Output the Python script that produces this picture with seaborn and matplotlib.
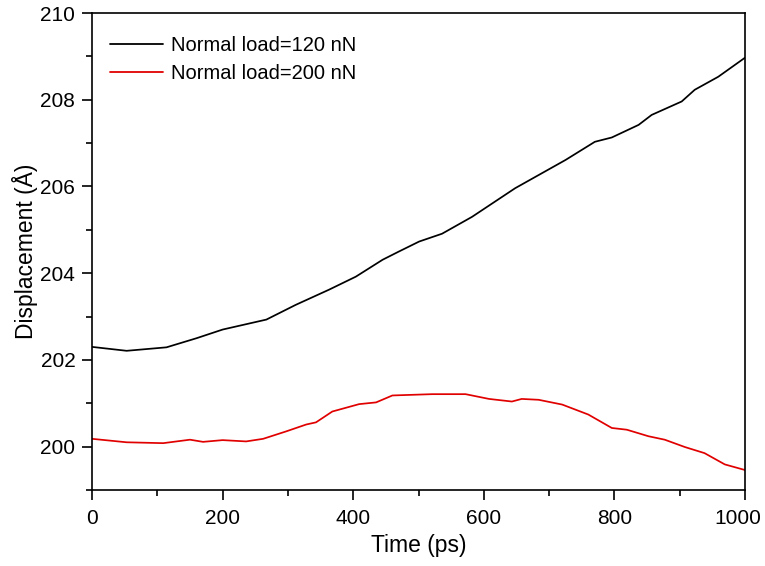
import numpy as np
import pandas as pd
import matplotlib
matplotlib.use("Agg")
import matplotlib.pyplot as plt
from matplotlib.ticker import MultipleLocator
from matplotlib.transforms import ScaledTranslation
import seaborn as sns

# values
time_120 = [0, 53, 114, 160, 200, 267, 312, 363, 404, 445, 470, 501, 536, 582,
            648, 725, 770, 796, 837, 857, 903, 923, 959, 1000]
disp_120 = [202.30, 202.21, 202.29, 202.50, 202.70, 202.93, 203.27, 203.62, 203.92,
            204.31, 204.50, 204.73, 204.91, 205.30, 205.96, 206.61, 207.03, 207.13,
            207.42, 207.65, 207.96, 208.23, 208.53, 208.97]

time_200 = [0, 53, 109, 150, 170, 200, 236, 262, 297, 328, 343, 368, 409, 435, 460,
            521, 572, 608, 643, 658, 684, 720, 760, 796, 819, 852, 877, 908, 938,
            969, 1000]
disp_200 = [200.18, 200.10, 200.08, 200.16, 200.11, 200.15, 200.12, 200.18, 200.35,
            200.51, 200.56, 200.81, 200.98, 201.02, 201.18, 201.21, 201.21, 201.10,
            201.04, 201.10, 201.08, 200.97, 200.74, 200.43, 200.39, 200.24, 200.16,
            199.99, 199.85, 199.59, 199.46]

labels = ["Normal load=120 nN", "Normal load=200 nN"]
x_ticks = [0, 200, 400, 600, 800, 1000]

df = pd.concat([
    pd.DataFrame({"Time": time_120, "Disp": disp_120, "Load": labels[0]}),
    pd.DataFrame({"Time": time_200, "Disp": disp_200, "Load": labels[1]}),
])

sns.set_theme(style="ticks")
plt.rcParams["font.family"] = ["Liberation Sans", "DejaVu Sans"]
plt.rcParams["text.color"] = "black"
plt.rcParams["axes.labelcolor"] = "black"

fig = plt.figure(figsize=(7.65, 5.66), dpi=100)
ax = fig.add_axes([0.1203, 0.1343, 0.8536, 0.8427])

sns.lineplot(data=df, x="Time", y="Disp", hue="Load", palette=["black", "#e00000"],
             linewidth=1.25, ax=ax, estimator=None, sort=False)

ax.set_xlim(0, 1000)
ax.set_ylim(199, 210)
ax.set_xticks(x_ticks)
ax.set_xticklabels([str(t) for t in x_ticks])
ax.xaxis.set_minor_locator(MultipleLocator(100))
ax.yaxis.set_major_locator(MultipleLocator(2))
ax.yaxis.set_minor_locator(MultipleLocator(1))
ax.tick_params(which="major", length=7, width=1.2, labelsize=15, colors="black")
ax.tick_params(axis="x", which="major", pad=7)
ax.tick_params(axis="y", which="major", pad=5)
ax.tick_params(which="minor", length=4, width=1.2, colors="black")
for s in ax.spines.values():
    s.set_linewidth(1.2)
    s.set_color("black")

ax.set_xlabel("Time (ps)", fontsize=16.5, labelpad=4)
ax.set_ylabel("Displacement (Å)", fontsize=16.5, labelpad=2)

# keep the last x label inside the figure, as in the reference
last = ax.get_xticklabels()[-1]
last.set_transform(last.get_transform() + ScaledTranslation(-7 / 100, 0, fig.dpi_scale_trans))

leg = ax.legend(loc="upper left", bbox_to_anchor=(0, 0.99), frameon=False,
                fontsize=14.5, handlelength=2.6, borderaxespad=0.3,
                labelspacing=0.45, handletextpad=0.4, borderpad=0.6)
for line in leg.get_lines():
    line.set_linewidth(1.3)

fig.savefig("out.png", dpi=100)
